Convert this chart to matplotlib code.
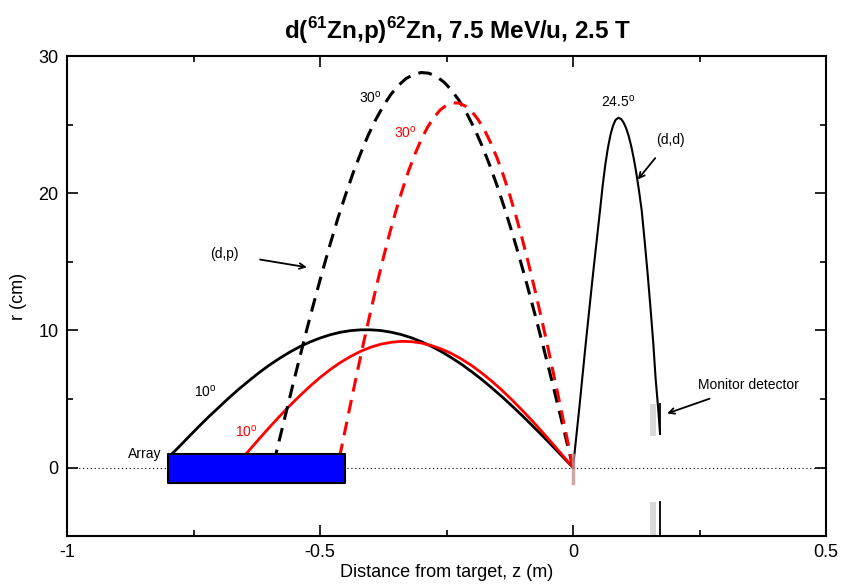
import matplotlib.pyplot as plt

plt.rcParams['font.family'] = ['Liberation Sans', 'DejaVu Sans']
plt.rcParams['mathtext.fontset'] = 'custom'
plt.rcParams['mathtext.rm'] = 'Liberation Sans'
plt.rcParams['mathtext.bf'] = 'Liberation Sans:bold'

# (d,p) protons, 10 deg, black solid
z_p10_k = [0, -0.02, -0.04, -0.06, -0.08, -0.10, -0.12, -0.14, -0.16, -0.18, -0.20,
           -0.22, -0.24, -0.26, -0.28, -0.30, -0.32, -0.34, -0.36, -0.38, -0.40,
           -0.42, -0.44, -0.46, -0.48, -0.50, -0.52, -0.54, -0.56, -0.58, -0.60,
           -0.62, -0.64, -0.66, -0.68, -0.70, -0.72, -0.74, -0.76, -0.78, -0.7925]
r_p10_k = [0, 0.77, 1.54, 2.30, 3.04, 3.77, 4.47, 5.15, 5.79, 6.41, 6.98,
           7.52, 8.00, 8.45, 8.84, 9.18, 9.47, 9.70, 9.87, 9.99, 10.04,
           10.04, 9.98, 9.86, 9.68, 9.44, 9.15, 8.81, 8.41, 7.96, 7.47,
           6.93, 6.34, 5.73, 5.08, 4.39, 3.70, 2.97, 2.22, 1.46, 1.0]

# 10 deg, red solid
z_p10_r = [0, -0.02, -0.04, -0.06, -0.08, -0.10, -0.12, -0.14, -0.16, -0.18, -0.20,
           -0.22, -0.24, -0.26, -0.28, -0.30, -0.32, -0.34, -0.36, -0.38, -0.40,
           -0.42, -0.44, -0.46, -0.48, -0.50, -0.52, -0.54, -0.56, -0.58, -0.60,
           -0.62, -0.646]
r_p10_r = [0, 0.86, 1.72, 2.56, 3.38, 4.16, 4.91, 5.62, 6.28, 6.88, 7.43,
           7.90, 8.31, 8.64, 8.90, 9.08, 9.18, 9.20, 9.13, 8.99, 8.77,
           8.47, 8.09, 7.65, 7.14, 6.56, 5.92, 5.23, 4.50, 3.73, 2.93,
           2.10, 1.0]

# 30 deg, black dashed
z_p30_k = [0, -0.015, -0.03, -0.045, -0.06, -0.075, -0.09, -0.105, -0.12, -0.135,
           -0.15, -0.165, -0.18, -0.195, -0.21, -0.225, -0.24, -0.255, -0.27, -0.285,
           -0.30, -0.315, -0.33, -0.345, -0.36, -0.375, -0.39, -0.405, -0.42, -0.435,
           -0.45, -0.465, -0.48, -0.495, -0.51, -0.525, -0.54, -0.555, -0.57, -0.587]
r_p30_k = [0, 2.28, 4.55, 6.80, 8.99, 11.13, 13.21, 15.20, 17.09, 18.87,
           20.54, 22.08, 23.48, 24.73, 25.82, 26.75, 27.51, 28.10, 28.51, 28.75,
           28.80, 28.66, 28.36, 27.86, 27.20, 26.36, 25.36, 24.21, 22.88, 21.44,
           19.83, 18.14, 16.28, 14.34, 12.31, 10.22, 8.04, 5.83, 3.57, 1.0]

# 30 deg, red dashed
z_p30_r = [0, -0.0125, -0.025, -0.0375, -0.05, -0.0625, -0.075, -0.0875, -0.10, -0.1125,
           -0.125, -0.1375, -0.15, -0.1625, -0.175, -0.1875, -0.20, -0.2125, -0.225, -0.2375,
           -0.25, -0.2625, -0.275, -0.2875, -0.30, -0.3125, -0.325, -0.3375, -0.35, -0.3625,
           -0.375, -0.3875, -0.40, -0.4125, -0.425, -0.4375, -0.45, -0.46]
r_p30_r = [0, 2.24, 4.47, 6.66, 8.81, 10.89, 12.90, 14.81, 16.62, 18.31,
           19.87, 21.29, 22.56, 23.66, 24.61, 25.37, 25.95, 26.35, 26.57, 26.59,
           26.42, 26.07, 25.52, 24.81, 23.91, 22.84, 21.62, 20.23, 18.71, 17.06,
           15.26, 13.37, 11.38, 9.33, 7.20, 5.02, 2.79, 1.0]

# (d,d) 24.5 deg
z_dd = [0, 0.0119, 0.0251, 0.0389, 0.0534, 0.0587, 0.0640, 0.0690, 0.0740, 0.0790,
        0.0840, 0.0896, 0.0950, 0.1000, 0.1050, 0.1100, 0.1150, 0.1200, 0.1250, 0.1300,
        0.1357, 0.142, 0.148, 0.1535, 0.1587, 0.163, 0.1686, 0.172]
r_dd = [0, 4.16, 9.03, 13.9, 18.76, 20.59, 22.13, 23.32, 24.25, 24.92,
        25.34, 25.5, 25.41, 25.15, 24.74, 24.17, 23.44, 22.54, 21.49, 20.28,
        18.76, 16.35, 13.9, 11.46, 9.03, 6.6, 4.16, 2.46]

# silicon array and monitor detector
array_z = [-0.80, -0.45]
array_r = [-1.1, 1.0]
mon_gray_z = [0.152, 0.164]
mon_z = 0.172
mon_upper = [2.3, 4.65]
mon_lower = [-5.0, -2.5]

fig = plt.figure(figsize=(8.44, 5.84), dpi=100)
ax = fig.add_axes([0.0794, 0.082, 0.8993, 0.822])

ax.axhline(0, color='black', lw=0.8, ls=(0, (1, 2.5)), zorder=1)

ax.plot(z_p10_k, r_p10_k, color='black', lw=2, zorder=2)
ax.plot(z_p10_r, r_p10_r, color='red', lw=2, zorder=3)
ax.plot(z_p30_k, r_p30_k, color='black', lw=2.2, ls=(0, (4.5, 2.8)), zorder=4)
ax.plot(z_p30_r, r_p30_r, color='red', lw=2.2, ls=(0, (4.5, 2.8)), zorder=5)
ax.plot(z_dd, r_dd, color='black', lw=1.5, zorder=4)

# target marker
ax.plot([0, 0], [-1.1, 0.9], color='#c48f8f', lw=2.5, alpha=0.8, zorder=6)

# array
ax.fill_between(array_z, array_r[0], array_r[1], facecolor='#0000ff',
                edgecolor='black', lw=1.5, zorder=7)

# monitor detector
for lo, hi in [mon_upper, mon_lower]:
    ax.fill_between(mon_gray_z, lo, hi, color='#d9d9d9', lw=0, zorder=2)
ax.plot([mon_z, mon_z], [mon_upper[0] + 0.15, mon_upper[1]], color='black', lw=1.3, zorder=3)
ax.plot([mon_z, mon_z], mon_lower, color='black', lw=1.3, zorder=3)

deg = r'$^{\rm o}$'
fs = 10
ax.text(-0.846, 1.0, 'Array', fontsize=fs, ha='center', va='center')
ax.text(-0.727, 5.5, '10' + deg, fontsize=fs, ha='center', va='center')
ax.text(-0.646, 2.6, '10' + deg, fontsize=fs, ha='center', va='center', color='red')
ax.text(-0.401, 27.0, '30' + deg, fontsize=fs, ha='center', va='center')
ax.text(-0.332, 24.4, '30' + deg, fontsize=fs, ha='center', va='center', color='red')
ax.text(0.089, 26.7, '24.5' + deg, fontsize=fs, ha='center', va='center')
ax.annotate('(d,p)', xy=(-0.526, 14.6), xytext=(-0.690, 15.6), fontsize=fs,
            ha='center', va='center',
            arrowprops=dict(arrowstyle='->', color='black', lw=1.3, shrinkA=14, shrinkB=0))
ax.annotate('(d,d)', xy=(0.128, 21.0), xytext=(0.192, 23.9), fontsize=fs,
            ha='center', va='center',
            arrowprops=dict(arrowstyle='->', color='black', lw=1.3, shrinkA=8, shrinkB=0))
ax.annotate('Monitor detector', xy=(0.186, 3.94), xytext=(0.346, 6.0), fontsize=fs,
            ha='center', va='center',
            arrowprops=dict(arrowstyle='->', color='black', lw=1.3, shrinkA=8, shrinkB=0))

ax.set_xlim(-1, 0.5)
ax.set_ylim(-5, 30)
ax.set_xticks([-1, -0.5, 0, 0.5])
ax.set_xticklabels(['-1', '-0.5', '0', '0.5'])
ax.set_xticks([-0.75, -0.25, 0.25], minor=True)
ax.set_yticks([0, 10, 20, 30])
ax.set_yticks([5, 15, 25], minor=True)
ax.tick_params(which='both', direction='in', top=True, right=True, labelsize=13, width=1.2)
ax.tick_params(which='major', length=8, pad=6)
ax.tick_params(which='minor', length=4)
for s in ax.spines.values():
    s.set_linewidth(1.5)

ax.set_xlabel('Distance from target, z (m)', fontsize=13, labelpad=2)
ax.set_ylabel('r (cm)', fontsize=13, labelpad=8)
ax.set_title(r'd($^{\mathbf{61}}$Zn,p)$^{\mathbf{62}}$Zn, 7.5 MeV/u, 2.5 T',
             fontsize=17.5, fontweight='bold', pad=12, x=0.514)

fig.savefig('out.png', dpi=100)
